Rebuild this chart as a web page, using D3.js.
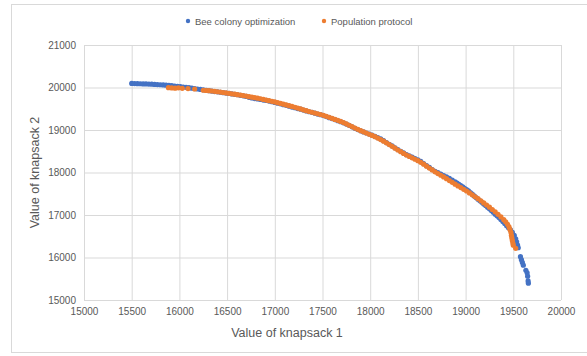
<!DOCTYPE html>
<html>
<head>
<meta charset="utf-8">
<script src="https://cdn.jsdelivr.net/npm/d3@7"></script>
<style>
  body { margin: 0; background: #fff; }
  text { font-family: "Liberation Sans", Arial, sans-serif; fill: #595959; }
</style>
</head>
<body>
<div id="chart"></div>
<script>
// tick labels
const xTicks = [15000, 15500, 16000, 16500, 17000, 17500, 18000, 18500, 19000, 19500, 20000];
const yTicks = [15000, 16000, 17000, 18000, 19000, 20000, 21000];

const seriesNames = ['Bee colony optimization', 'Population protocol'];
const seriesColors = ['#4472C4', '#ED7D31'];

// Bee colony optimization: [knapsack 1, knapsack 2]
const beeColony = [
  [15500,20095],[15530,20092],[15560,20090],[15590,20088],[15620,20085],[15650,20083],[15680,20080],[15710,20078],
  [15740,20072],[15770,20070],[15800,20065],[15830,20060],[15860,20055],[15890,20048],[15920,20042],[15950,20035],
  [15980,20030],[16010,20020],[16040,20012],[16070,20005],[16100,19995],[16130,19985],[16160,19975],[16190,19965],
  [16220,19955],[16250,19945],[16280,19935],[16310,19925],[16340,19915],[16370,19905],[16400,19898],[16430,19888],
  [16460,19878],[16490,19868],[16520,19860],[16550,19850],[16580,19840],[16610,19830],[16640,19815],[16670,19805],
  [16700,19790],[16730,19770],[16760,19755],[16790,19740],[16820,19730],[16850,19720],[16880,19705],[16910,19695],
  [16940,19680],[16970,19665],[17000,19650],[17030,19630],[17060,19615],[17090,19595],[17120,19580],[17150,19560],
  [17180,19540],[17210,19525],[17240,19505],[17270,19490],[17300,19470],[17330,19450],[17360,19430],[17390,19415],
  [17420,19395],[17450,19375],[17480,19360],[17510,19340],[17540,19315],[17570,19290],[17600,19270],[17630,19245],
  [17660,19220],[17690,19195],[17720,19170],[17750,19140],[17780,19110],[17810,19075],[17840,19040],[17870,19010],
  [17900,18980],[17930,18955],[17960,18930],[17990,18905],[18020,18880],[18050,18850],[18080,18820],[18110,18790],
  [18140,18750],[18170,18705],[18200,18665],[18230,18625],[18260,18580],[18290,18540],[18320,18500],[18350,18460],
  [18380,18420],[18410,18390],[18440,18360],[18470,18330],[18500,18300],[18530,18260],[18560,18210],[18590,18160],
  [18620,18120],[18650,18070],[18680,18030],[18710,17995],[18740,17965],[18770,17930],[18800,17900],[18830,17860],
  [18860,17820],[18890,17780],[18910,17750],[18930,17720],[18950,17690],[18970,17660],[18990,17630],[19010,17600],
  [19030,17570],[19050,17530],[19070,17490],[19090,17450],[19110,17410],[19130,17370],[19150,17335],[19170,17300],
  [19190,17260],[19210,17225],[19230,17185],[19250,17145],[19270,17105],[19290,17065],[19310,17020],[19330,16980],
  [19350,16940],[19370,16895],[19390,16850],[19410,16800],[19430,16750],[19450,16700],[19470,16650],[19490,16590],
  [19510,16520],[19525,16440],[19535,16370],[19545,16290],[19552,16230],
  [19575,16020],[19585,15950],[19595,15885],[19605,15820],
  [19632,15700],[19645,15640],[19650,15560],
  [19655,15450],[19658,15395]
];

// Population protocol: [knapsack 1, knapsack 2]
const popProtocol = [
  [15885,19995],[15920,19990],[15955,19985],[15990,19992],[16030,19980],[16090,19975],[16160,19965],
  [16250,19935],[16280,19930],[16310,19925],[16340,19918],[16370,19910],[16400,19900],[16430,19892],[16460,19882],
  [16490,19872],[16520,19862],[16550,19852],[16580,19842],[16610,19832],[16640,19822],[16670,19810],[16700,19798],
  [16730,19785],[16760,19772],[16790,19760],[16820,19748],[16850,19735],[16880,19720],[16910,19705],[16940,19690],
  [16970,19675],[17000,19660],[17030,19642],[17060,19625],[17090,19608],[17120,19590],[17150,19572],[17180,19555],
  [17210,19535],[17240,19515],[17270,19495],[17300,19475],[17330,19455],[17360,19435],[17390,19418],[17420,19400],
  [17450,19382],[17480,19365],[17510,19345],[17540,19322],[17570,19298],[17600,19275],[17630,19250],[17660,19228],
  [17690,19202],[17720,19175],[17750,19145],[17780,19112],[17810,19080],[17840,19045],[17870,19015],[17900,18985],
  [17930,18958],[17960,18930],[17990,18900],[18020,18872],[18050,18842],[18080,18810],[18110,18775],[18140,18738],
  [18170,18698],[18200,18658],[18230,18615],[18260,18572],[18290,18530],[18320,18490],[18350,18450],[18380,18412],
  [18410,18378],[18440,18345],[18470,18312],[18500,18278],[18530,18240],[18560,18195],[18590,18150],[18620,18105],
  [18650,18060],[18680,18015],[18710,17975],[18740,17935],[18770,17895],[18800,17855],[18830,17810],[18860,17768],
  [18890,17725],[18920,17685],[18950,17645],[18980,17605],[19010,17565],[19040,17520],[19070,17475],[19100,17430],
  [19130,17385],[19160,17335],[19190,17285],[19220,17235],[19250,17185],[19280,17130],[19310,17075],[19340,17015],
  [19370,16955],[19400,16890],[19420,16840],[19440,16780],[19455,16720],[19465,16660],[19475,16590],[19480,16520],
  [19485,16460],[19490,16400],[19495,16340],[19500,16290],[19525,16215]
];

const width = 587;
const height = 356;
const plot = { left: 84, right: 561, top: 45, bottom: 300 };

const svg = d3.select('#chart')
  .append('svg')
  .attr('width', width)
  .attr('height', height);

svg.append('rect')
  .attr('width', width).attr('height', height)
  .attr('fill', '#fff');

// chart area border
svg.append('rect')
  .attr('x', 11.5).attr('y', 4.5)
  .attr('width', 585).attr('height', 348)
  .attr('fill', 'none')
  .attr('stroke', '#d9d9d9');

const x = d3.scaleLinear().domain([15000, 20000]).range([plot.left, plot.right]);
const y = d3.scaleLinear().domain([15000, 21000]).range([plot.bottom, plot.top]);

// gridlines + labels via axes
const xAxis = svg.append('g')
  .attr('transform', `translate(0,${plot.bottom})`)
  .call(d3.axisBottom(x).tickValues(xTicks).tickFormat(d3.format('d'))
    .tickSize(-(plot.bottom - plot.top)).tickSizeOuter(0).tickPadding(8));
xAxis.select('.domain').remove();
xAxis.selectAll('line').attr('stroke', '#d9d9d9');
xAxis.selectAll('text').attr('font-size', 10).attr('fill', '#595959')
  .style('font-family', '"Liberation Sans", Arial, sans-serif');

const yAxis = svg.append('g')
  .attr('transform', `translate(${plot.left},0)`)
  .call(d3.axisLeft(y).tickValues(yTicks).tickFormat(d3.format('d'))
    .tickSize(-(plot.right - plot.left)).tickSizeOuter(0).tickPadding(8));
yAxis.select('.domain').remove();
yAxis.selectAll('line').attr('stroke', '#d9d9d9');
yAxis.selectAll('text').attr('font-size', 10).attr('fill', '#595959')
  .style('font-family', '"Liberation Sans", Arial, sans-serif');

// points
[beeColony, popProtocol].forEach((data, i) => {
  svg.append('g')
    .selectAll('circle')
    .data(data)
    .join('circle')
    .attr('cx', d => x(d[0]))
    .attr('cy', d => y(d[1]))
    .attr('r', 2.6)
    .attr('fill', seriesColors[i]);
});

// axis titles
svg.append('text')
  .attr('x', 287).attr('y', 337)
  .attr('text-anchor', 'middle')
  .attr('font-size', 12.5)
  .text('Value of knapsack 1');

svg.append('text')
  .attr('transform', `translate(39,${(plot.top + plot.bottom) / 2}) rotate(-90)`)
  .attr('text-anchor', 'middle')
  .attr('font-size', 12.5)
  .text('Value of knapsack 2');

// legend
const legendX = [188, 324];
const legend = svg.append('g');
seriesNames.forEach((name, i) => {
  legend.append('circle')
    .attr('cx', legendX[i]).attr('cy', 21)
    .attr('r', 2.2)
    .attr('fill', seriesColors[i]);
  legend.append('text')
    .attr('x', legendX[i] + 7).attr('y', 24.5)
    .attr('font-size', 9.5)
    .text(name);
});
</script>
</body>
</html>
